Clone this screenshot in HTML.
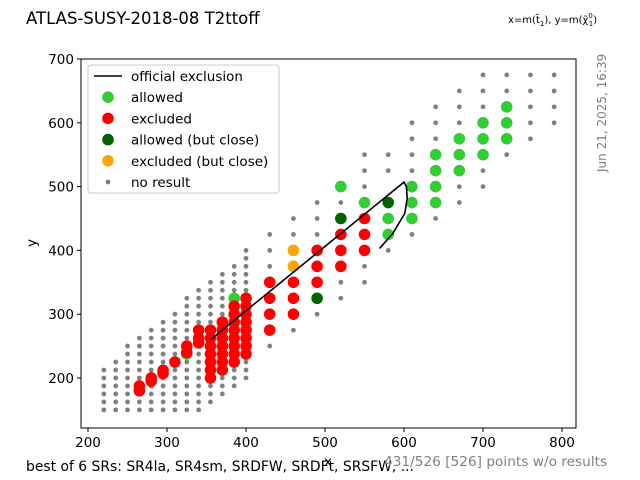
<!DOCTYPE html>
<html><head><meta charset="utf-8"><style>
body{margin:0;background:#fff;}
svg{display:block;font-family:"DejaVu Sans","Liberation Sans",sans-serif;}
</style></head><body>
<svg id="c" width="640" height="480" viewBox="0 0 640 480">
<text x="26" y="24" font-size="16.5" fill="#000">ATLAS-SUSY-2018-08 T2ttoff</text>
<text x="508" y="23" font-size="10" fill="#000">x=m(t̃<tspan font-size="7" dy="3">1</tspan><tspan dy="-3">), y=m(χ̃</tspan><tspan font-size="7" dy="-5">0</tspan><tspan font-size="7" dx="-4" dy="8">1</tspan><tspan dy="-3">)</tspan></text>
<text transform="translate(606,172) rotate(-90)" font-size="12" fill="#808080">Jun 21, 2025, 16:39</text>
<text x="26" y="471" font-size="13.9" fill="#000">best of 6 SRs: SR4la, SR4sm, SRDFW, SRDFt, SRSFW, ...</text>
<text x="324" y="466" font-size="13.5" fill="#000">x</text>
<text x="384" y="466" font-size="13.7" fill="#808080">431/526 [526] points w/o results</text>
<text transform="translate(36,247) rotate(-90)" font-size="13.5" fill="#000">y</text>
<g id="ticks"></g>
<g id="marks"></g>
<rect x="81" y="59" width="495" height="369" fill="none" stroke="#000" stroke-width="1"/>
<g id="legend"></g>
</svg>
<script>
const xTicks=[200,300,400,500,600,700,800];
const yTicks=[200,300,400,500,600,700];
const exclX=[355,600,603,604,603,601,586,569];
const exclY=[260,507,500,482,474,458,427,403];
const allowedX=[325,385,520,550,580,580,610,610,610,640,640,640,640,670,670,670,700,700,700,730,730,730];
const allowedY=[237.5,325,500,475,450,425,500,475,450,550,525,500,475,575,550,525,600,575,550,625,600,575];
const excludedX=[265,265,280,280,295,295,310,325,325,340,340,340,355,355,355,355,355,355,355,370,370,370,370,370,370,370,385,385,385,385,385,385,385,385,400,400,400,400,400,400,400,400,430,430,430,430,460,460,460,490,490,490,520,520,520,550,550,550];
const excludedY=[180,187.5,195,200,207,212,225,240,250,275,262.5,255,275,262.5,250,237.5,225,212.5,200,287.5,275,262.5,250,237.5,225,212.5,312.5,300,287.5,275,262.5,250,237.5,225,325,312.5,300,287.5,275,262.5,250,237.5,350,325,300,275,350,325,300,400,375,350,425,400,375,450,425,400];
const closeAllowedX=[490,520,580];
const closeAllowedY=[325,450,475];
const closeExcludedX=[460,460];
const closeExcludedY=[400,375];
const colX=[220,235,250,265,280,295,310,325,340,355,370,385,400];
const colLo=[150,150,150,150,150,150,150,150,150,162.5,175,187.5,200];
const colHi=[212.5,225,250,262.5,275,287.5,300,325,337.5,350,362.5,375,400];
const noResX=[430,430,430,430,460,460,460,490,490,490,490,520,520,520,550,550,550,550,550,550,580,580,580,610,610,610,610,610,640,640,640,640,670,670,670,670,670,700,700,700,700,700,730,730,730,730,760,760,760,760,760,790,790,790,790];
const noResY=[425,400,375,250,450,425,275,475,450,425,300,475,350,325,550,525,500,375,350,425,550,525,400,600,575,550,525,425,625,600,575,450,650,625,600,500,475,675,650,625,525,500,675,650,550,575,675,650,625,600,575,675,650,625,600];
const legendLabels=["official exclusion","allowed","excluded","allowed (but close)","excluded (but close)","no result"];
const NS="http://www.w3.org/2000/svg";
const X0=81,X1=576,Y0=428,Y1=59,XMIN=191.1,XMAX=817.7,YMIN=121.6,YMAX=700;
function sx(v){return X0+(v-XMIN)/(XMAX-XMIN)*(X1-X0);}
function sy(v){return Y0-(v-YMIN)/(YMAX-YMIN)*(Y0-Y1);}
function mk(t,a,p){const e=document.createElementNS(NS,t);for(const k in a)e.setAttribute(k,a[k]);(p||document.getElementById('marks')).appendChild(e);return e;}
const tg=document.getElementById('ticks');
xTicks.forEach(v=>{
 const l=mk('line',{x1:sx(v),x2:sx(v),y1:428,y2:432,stroke:'#000'},tg);
 
 
 const t=mk('text',{x:sx(v),y:447,'font-size':13.5,'text-anchor':'middle'},tg);t.textContent=v;
 
 
});
yTicks.forEach(v=>{
 const l=mk('line',{x1:77,x2:81,y1:sy(v),y2:sy(v),stroke:'#000'},tg);
 
 
 const t=mk('text',{x:74,y:sy(v)+5,'font-size':13.5,'text-anchor':'end'},tg);t.textContent=v;
 
 
});
for(let i=0;i<colX.length;i++){
 for(let y=colLo[i];y<=colHi[i]+0.01;y+=12.5){
  const c=mk('circle',{cx:sx(colX[i]),cy:sy(y),r:2.4,fill:'#808080'});
  
  
 }
}
noResX.forEach((x,i)=>{
 const c=mk('circle',{cx:sx(x),cy:sy(noResY[i]),r:2.4,fill:'#808080'});
 
 
});
function series(xs,ys,col,name){xs.forEach((x,i)=>{
 const c=mk('circle',{cx:sx(x),cy:sy(ys[i]),r:5.8,fill:col});
 
 
});}
series(allowedX,allowedY,'#32cd32','point-allowed');
series(excludedX,excludedY,'#ff0000','point-excluded');
series(closeAllowedX,closeAllowedY,'#006400','point-allowed-close');
series(closeExcludedX,closeExcludedY,'#ffa500','point-excluded-close');
const pts=exclX.map((x,i)=>sx(x).toFixed(1)+','+sy(exclY[i]).toFixed(1)).join(' ');
const pl=mk('polyline',{points:pts,fill:'none',stroke:'#000','stroke-width':1.6});


const lg=document.getElementById('legend');
mk('rect',{x:88,y:65,width:191,height:128,rx:3,fill:'#fff','fill-opacity':0.8,stroke:'#ccc'},lg);
const lcols=[null,'#32cd32','#ff0000','#006400','#ffa500','#808080'];
legendLabels.forEach((s,i)=>{
 const y=76+i*21.2;
 if(i==0){mk('line',{x1:94,x2:122,y1:y,y2:y,stroke:'#000','stroke-width':1.6},lg);}
 else mk('circle',{cx:108,cy:y,r:i==5?2.4:5.8,fill:lcols[i]},lg);
 const t=mk('text',{x:131,y:y+5,'font-size':13.5},lg);t.textContent=s;
 
 
});
</script>
</body></html>
